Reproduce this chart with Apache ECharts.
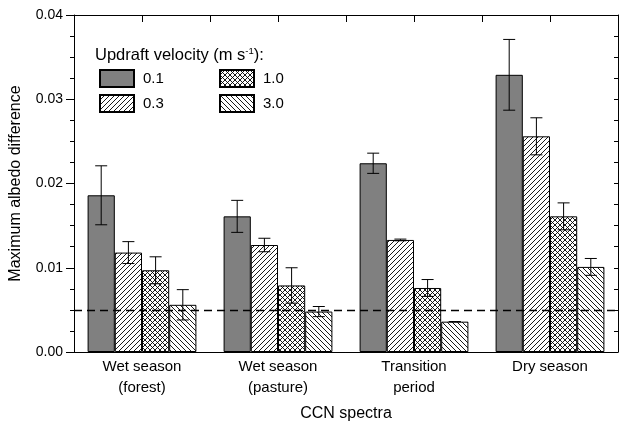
<!DOCTYPE html>
<html>
<head>
<meta charset="utf-8">
<script src="https://cdn.jsdelivr.net/npm/echarts@6/dist/echarts.min.js"></script>
<style>
	html, body { margin: 0; padding: 0; background: #fff; }
	#chart { width: 620px; height: 432px; }
</style>
</head>
<body>
<div id="chart"></div>
<script>
// CCN spectra categories and updraft velocities
var categories = ['Wet season\n(forest)', 'Wet season\n(pasture)', 'Transition\nperiod', 'Dry season'];
var velocities = ['0.1', '0.3', '1.0', '3.0'];

// maximum albedo difference and error for each velocity
var v01 = [0.0186, 0.0161, 0.0224, 0.0329];
var e01 = [0.0035, 0.0019, 0.0012, 0.0042];
var v03 = [0.0118, 0.0127, 0.0133, 0.0256];
var e03 = [0.0013, 0.0008, 0.0001, 0.0022];
var v10 = [0.0097, 0.0079, 0.0076, 0.0161];
var e10 = [0.0016, 0.0021, 0.0010, 0.0016];
var v30 = [0.0056, 0.0048, 0.0036, 0.0101];
var e30 = [0.0018, 0.0006, 0.0000, 0.0010];

var threshold = 0.005;

var font = "'Liberation Sans', Arial, sans-serif";

function makePattern(type) {
	var size = 5;
	var c = document.createElement('canvas');
	c.width = size; c.height = size;
	var ctx = c.getContext('2d');
	ctx.fillStyle = '#fff';
	ctx.fillRect(0, 0, size, size);
	ctx.strokeStyle = '#000';
	ctx.lineWidth = 0.9;
	ctx.beginPath();
	if (type === 'fwd' || type === 'cross') {
		ctx.moveTo(-1, size + 1); ctx.lineTo(size + 1, -1);
		ctx.moveTo(-1, 1); ctx.lineTo(1, -1);
		ctx.moveTo(size - 1, size + 1); ctx.lineTo(size + 1, size - 1);
	}
	if (type === 'back' || type === 'cross') {
		ctx.moveTo(-1, -1); ctx.lineTo(size + 1, size + 1);
		ctx.moveTo(-1, size - 1); ctx.lineTo(1, size + 1);
		ctx.moveTo(size - 1, -1); ctx.lineTo(size + 1, 1);
	}
	ctx.stroke();
	return { image: c, repeat: 'repeat' };
}

var fills = ['#808080', makePattern('fwd'), makePattern('cross'), makePattern('back')];
var values = [v01, v03, v10, v30];
var errors = [e01, e03, e10, e30];

function errorRender(i) {
	return function (params, api) {
		var band = api.size([1, 0])[0];
		var x = api.coord([api.value(0), 0])[0] + (i - 1.5) * 0.2 * band;
		var hi = api.coord([api.value(0), api.value(1) + api.value(2)])[1];
		var lo = api.coord([api.value(0), api.value(1) - api.value(2)])[1];
		var cap = 6;
		var st = { stroke: '#000', lineWidth: 1 };
		return {
			type: 'group',
			children: [
				{ type: 'line', shape: { x1: x, y1: hi, x2: x, y2: lo }, style: st },
				{ type: 'line', shape: { x1: x - cap, y1: hi, x2: x + cap, y2: hi }, style: st },
				{ type: 'line', shape: { x1: x - cap, y1: lo, x2: x + cap, y2: lo }, style: st }
			]
		};
	};
}

var series = [];
velocities.forEach(function (name, i) {
	var s = {
		name: name,
		type: 'bar',
		xAxisIndex: 0,
		yAxisIndex: 0,
		barGap: 0,
		barCategoryGap: '20%',
		data: values[i],
		itemStyle: { color: fills[i], borderColor: '#000', borderWidth: 1 },
		emphasis: { disabled: true }
	};
	if (i === velocities.length - 1) {
		s.markLine = {
			silent: true,
			symbol: 'none',
			precision: 4,
			label: { show: false },
			lineStyle: { color: '#000', type: [8, 5], width: 1.3 },
			data: [{ yAxis: threshold }]
		};
	}
	series.push(s);
});
velocities.forEach(function (name, i) {
	series.push({
		type: 'custom',
		xAxisIndex: 0,
		yAxisIndex: 0,
		z: 4,
		silent: true,
		renderItem: errorRender(i),
		data: values[i].map(function (v, k) { return [k, v, errors[i][k]]; })
	});
});

var myChart = echarts.init(document.getElementById('chart'));
var option = {
	animation: false,
	textStyle: { fontFamily: font, color: '#000' },
	grid: { left: 74, right: 2, top: 15, bottom: 80 },
	title: {
		text: '{t|Updraft velocity (m s}{s|-1}{t|):}',
		left: 95,
		top: 46,
		padding: 0,
		textStyle: {
			fontWeight: 'normal',
			rich: {
				t: { fontFamily: font, fontSize: 16.5, fontWeight: 'normal', lineHeight: 18, color: '#000' },
				s: { fontFamily: font, fontSize: 9.5, fontWeight: 'normal', lineHeight: 9, verticalAlign: 'top', color: '#000' }
			}
		}
	},
	legend: [
		{
			data: ['0.1', '0.3'],
			orient: 'vertical',
			left: 99, top: 69,
			padding: 0,
			itemGap: 6,
			itemWidth: 34, itemHeight: 17,
			icon: 'rect',
			selectedMode: false,
			textStyle: { fontFamily: font, fontSize: 15, color: '#000', padding: [0, 0, 0, 4] }
		},
		{
			data: ['1.0', '3.0'],
			orient: 'vertical',
			left: 219, top: 69,
			padding: 0,
			itemGap: 6,
			itemWidth: 34, itemHeight: 17,
			icon: 'rect',
			selectedMode: false,
			textStyle: { fontFamily: font, fontSize: 15, color: '#000', padding: [0, 0, 0, 4] }
		}
	],
	xAxis: [
		{
			type: 'category',
			position: 'bottom',
			data: categories,
			name: 'CCN spectra',
			nameLocation: 'middle',
			nameGap: 54,
			nameTextStyle: { fontFamily: font, fontSize: 16, color: '#000' },
			axisLine: { lineStyle: { color: '#000', width: 1 } },
			axisTick: { inside: false, length: 5, lineStyle: { color: '#000' } },
			axisLabel: { fontFamily: font, fontSize: 15, lineHeight: 21, color: '#000', margin: 4 },
			splitLine: { show: false }
		},
		{
			type: 'value',
			position: 'top',
			min: 0, max: 8, interval: 1,
			axisLine: { show: true, onZero: false, lineStyle: { color: '#000', width: 1 } },
			axisTick: { show: true, inside: true, length: 7, lineStyle: { color: '#000' } },
			axisLabel: { show: false },
			splitLine: { show: false }
		}
	],
	yAxis: [
		{
			type: 'value',
			position: 'left',
			min: 0, max: 0.04, interval: 0.01,
			name: 'Maximum albedo difference',
			nameLocation: 'middle',
			nameGap: 50,
			nameTextStyle: { fontFamily: font, fontSize: 16, color: '#000' },
			axisLine: { show: true, lineStyle: { color: '#000', width: 1 } },
			axisTick: { show: true, inside: false, length: 8, lineStyle: { color: '#000' } },
			minorTick: { show: true, splitNumber: 4, length: 4, lineStyle: { color: '#000' } },
			axisLabel: {
				fontFamily: font, fontSize: 14, color: '#000', margin: 11,
				formatter: function (v) { return v.toFixed(2); }
			},
			splitLine: { show: false }
		},
		{
			type: 'value',
			position: 'right',
			min: 0, max: 0.04, interval: 0.01,
			axisLine: { show: true, lineStyle: { color: '#000', width: 1 } },
			axisTick: { show: true, inside: true, length: 4, lineStyle: { color: '#000' } },
			minorTick: { show: true, splitNumber: 4, length: 4, lineStyle: { color: '#000' } },
			axisLabel: { show: false },
			splitLine: { show: false }
		}
	],
	series: series
};

if (option && typeof option === 'object') {
	myChart.setOption(option, true);
}
</script>
</body>
</html>
